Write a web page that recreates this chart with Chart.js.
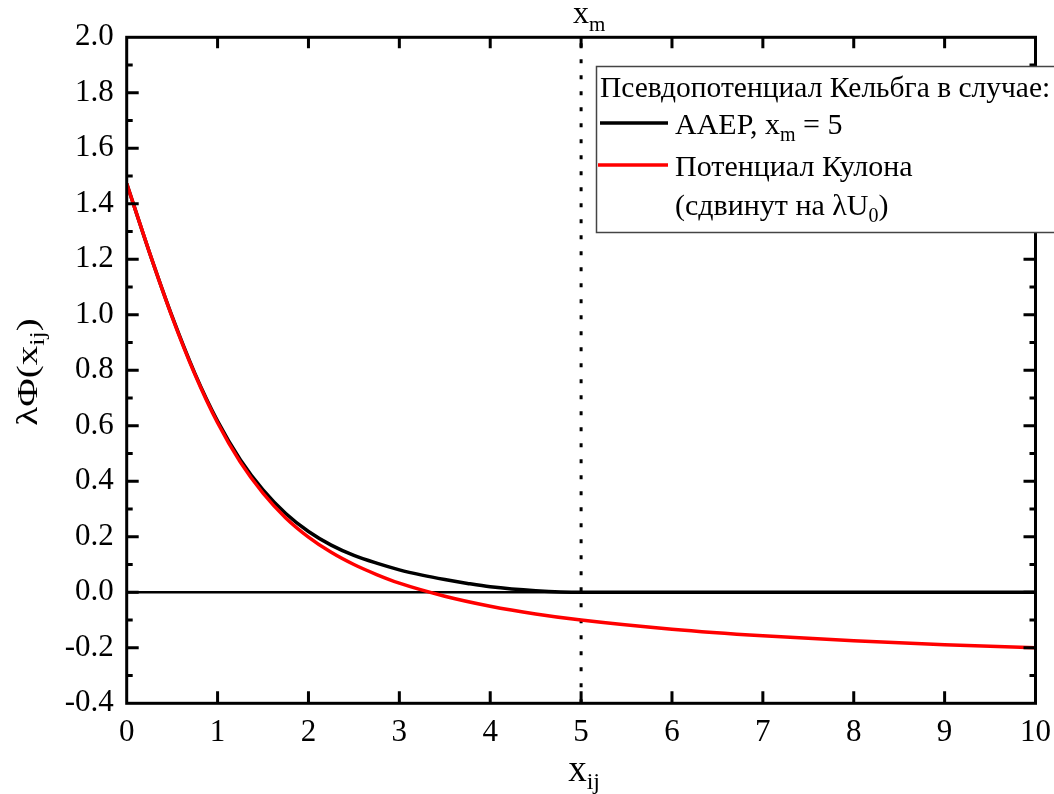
<!DOCTYPE html>
<html>
<head>
<meta charset="utf-8">
<script src="https://cdn.jsdelivr.net/npm/chart.js@4.4.1/dist/chart.umd.min.js"></script>
<style>
  html, body { margin: 0; padding: 0; background: #ffffff; }
  canvas { display: block; }
</style>
</head>
<body>
<canvas id="chart" width="1054" height="794"></canvas>
<script>
// Axis ranges and tick labels
const xTicks = [0, 1, 2, 3, 4, 5, 6, 7, 8, 9, 10];
const yTicks = [-0.4, -0.2, 0.0, 0.2, 0.4, 0.6, 0.8, 1.0, 1.2, 1.4, 1.6, 1.8, 2.0];

// Shifted Coulomb (Kelbg) pseudopotential
const coulombX = [0, 0.25, 0.5, 0.75, 1, 1.25, 1.5, 1.75, 2, 2.25, 2.5, 2.75, 3, 3.5, 4, 4.5, 5, 6, 7, 8, 9, 10];
const coulombY = [1.473, 1.225, 0.992, 0.786, 0.611, 0.469, 0.357, 0.268, 0.199, 0.144, 0.100, 0.064, 0.033, -0.014, -0.050, -0.078, -0.100, -0.133, -0.157, -0.175, -0.189, -0.200];

// AAEP pseudopotential, x_m = 5
const aaepX = [0, 0.25, 0.5, 0.75, 1, 1.25, 1.5, 1.75, 2, 2.25, 2.5, 2.75, 3, 3.25, 3.5, 3.75, 4, 4.5, 5, 5.5, 6, 7, 8, 9, 10];
const aaepY = [1.473, 1.225, 0.994, 0.789, 0.617, 0.478, 0.369, 0.284, 0.219, 0.170, 0.133, 0.105, 0.081, 0.062, 0.046, 0.032, 0.020, 0.006, 0.0, 0, 0, 0, 0, 0, 0];

// Zero reference line and cutoff x_m
const zeroX = [0, 10];
const zeroY = [0, 0];
const xm = 5;

const SERIF = '"Liberation Serif", "Times New Roman", serif';
const toPoints = (xs, ys) => xs.map((x, i) => ({ x: x, y: ys[i] }));

// Text with subscripts: parts = [{t, size, dy}]
function richWidth(ctx, parts) {
  let w = 0;
  for (const p of parts) { ctx.font = p.size + 'px ' + SERIF; w += ctx.measureText(p.t).width; }
  return w;
}
function drawRich(ctx, parts, x, y, align) {
  const w = richWidth(ctx, parts);
  let cx = align === 'center' ? x - w / 2 : x;
  ctx.textAlign = 'left';
  ctx.textBaseline = 'alphabetic';
  for (const p of parts) {
    ctx.font = p.size + 'px ' + SERIF;
    ctx.fillText(p.t, cx, y + (p.dy || 0));
    cx += ctx.measureText(p.t).width;
  }
}

const frameAndLabels = {
  id: 'frameAndLabels',
  afterDatasetsDraw(chart) {
    const { ctx, chartArea: a, scales } = chart;
    const xs = scales.x, ys = scales.y;
    ctx.save();
    ctx.strokeStyle = '#000';
    ctx.lineWidth = 3;
    ctx.lineCap = 'butt';
    ctx.beginPath();
    // y ticks on left and right, majors and minors, pointing inward
    for (let i = 0; i < yTicks.length; i++) {
      const py = ys.getPixelForValue(yTicks[i]);
      if (i > 0 && i < yTicks.length - 1) {
        ctx.moveTo(a.left, py); ctx.lineTo(a.left + 12, py);
        ctx.moveTo(a.right, py); ctx.lineTo(a.right - 12, py);
      }
      if (i < yTicks.length - 1) {
        const pm = ys.getPixelForValue((yTicks[i] + yTicks[i + 1]) / 2);
        ctx.moveTo(a.left, pm); ctx.lineTo(a.left + 6, pm);
        ctx.moveTo(a.right, pm); ctx.lineTo(a.right - 6, pm);
      }
    }
    // x ticks on bottom and top
    for (let i = 1; i < xTicks.length - 1; i++) {
      const px = xs.getPixelForValue(xTicks[i]);
      ctx.moveTo(px, a.bottom); ctx.lineTo(px, a.bottom - 12);
      ctx.moveTo(px, a.top); ctx.lineTo(px, a.top + 11);
    }
    ctx.stroke();
    ctx.strokeRect(a.left, a.top, a.right - a.left, a.bottom - a.top);

    ctx.fillStyle = '#000';
    // x tick labels
    ctx.font = '31px ' + SERIF;
    ctx.textAlign = 'center';
    ctx.textBaseline = 'alphabetic';
    for (const v of xTicks) ctx.fillText(String(v), xs.getPixelForValue(v), 741);
    // x axis title
    const cx = (a.left + a.right) / 2;
    drawRich(ctx, [{ t: 'x', size: 37 }, { t: 'ij', size: 24, dy: 8 }], cx + 3, 781, 'center');
    // x_m label above the cutoff line
    const pxm = xs.getPixelForValue(xm);
    drawRich(ctx, [{ t: 'x', size: 32 }, { t: 'm', size: 21, dy: 8 }], pxm - 8, 23, 'left');
    // y axis title
    ctx.save();
    ctx.translate(37, 372);
    ctx.rotate(-Math.PI / 2);
    ctx.scale(1.3, 1);
    drawRich(ctx, [{ t: 'λΦ(x', size: 30 }, { t: 'ij', size: 20, dy: 7 }, { t: ')', size: 30 }], 0, 0, 'center');
    ctx.restore();
    ctx.restore();
  },
  afterDraw(chart) {
    const { ctx } = chart;
    const ds = chart.data.datasets;
    ctx.save();
    // legend box
    ctx.fillStyle = '#fff';
    ctx.fillRect(596.5, 66.5, 470, 166);
    ctx.strokeStyle = '#444';
    ctx.lineWidth = 1.5;
    ctx.strokeRect(596.5, 66.5, 470, 166);
    ctx.fillStyle = '#000';
    drawRich(ctx, [{ t: 'Псевдопотенциал Кельбга в случае:', size: 29.5 }], 600, 97, 'left');
    // sample lines
    ctx.lineWidth = 3.5;
    ctx.strokeStyle = ds[1].borderColor;
    ctx.beginPath(); ctx.moveTo(600, 123); ctx.lineTo(668, 123); ctx.stroke();
    ctx.strokeStyle = ds[0].borderColor;
    ctx.beginPath(); ctx.moveTo(598, 165); ctx.lineTo(668, 165); ctx.stroke();
    drawRich(ctx, [{ t: 'AAEP, x', size: 30 }, { t: 'm', size: 20, dy: 7 }, { t: ' = 5', size: 30 }], 675, 134, 'left');
    drawRich(ctx, [{ t: 'Потенциал Кулона', size: 30 }], 675, 176, 'left');
    drawRich(ctx, [{ t: '(сдвинут на λU', size: 30 }, { t: '0', size: 20, dy: 7 }, { t: ')', size: 30 }], 675, 215, 'left');
    ctx.restore();
  }
};

new Chart(document.getElementById('chart'), {
  type: 'scatter',
  data: {
    datasets: [
      {
        label: 'Потенциал Кулона (сдвинут на λU0)',
        data: toPoints(coulombX, coulombY),
        showLine: true, borderColor: '#ff0000', borderWidth: 3.5,
        pointRadius: 0, cubicInterpolationMode: 'monotone', order: 0
      },
      {
        label: 'AAEP, xm = 5',
        data: toPoints(aaepX, aaepY),
        showLine: true, borderColor: '#000000', borderWidth: 3.5,
        pointRadius: 0, cubicInterpolationMode: 'monotone', order: 1
      },
      {
        label: 'zero',
        data: toPoints(zeroX, zeroY),
        showLine: true, borderColor: '#000000', borderWidth: 2.5,
        pointRadius: 0, order: 2
      },
      {
        label: 'xm',
        data: [{ x: xm, y: yTicks[0] }, { x: xm, y: yTicks[yTicks.length - 1] }],
        showLine: true, borderColor: '#000000', borderWidth: 3,
        borderDash: [4, 12], pointRadius: 0, order: 3
      }
    ]
  },
  options: {
    responsive: false,
    animation: false,
    devicePixelRatio: 1,
    layout: { autoPadding: false, padding: { top: 37.3, right: 18.5, left: 0, bottom: 0 } },
    plugins: { legend: { display: false }, tooltip: { enabled: false } },
    scales: {
      x: {
        type: 'linear', min: xTicks[0], max: xTicks[xTicks.length - 1],
        afterBuildTicks: s => { s.ticks = xTicks.map(v => ({ value: v })); },
        afterFit: s => { s.height = 90.7; },
        grid: { display: false, drawTicks: false },
        border: { display: false },
        ticks: { display: false }
      },
      y: {
        type: 'linear', min: yTicks[0], max: yTicks[yTicks.length - 1],
        afterBuildTicks: s => { s.ticks = yTicks.map(v => ({ value: v })); },
        afterFit: s => { s.width = 126.7; },
        grid: { display: false, drawTicks: false },
        border: { display: false },
        ticks: { color: '#000', font: { family: SERIF, size: 31 }, padding: 13,
                 callback: v => Number(v).toFixed(1) }
      }
    }
  },
  plugins: [frameAndLabels]
});
</script>
</body>
</html>
